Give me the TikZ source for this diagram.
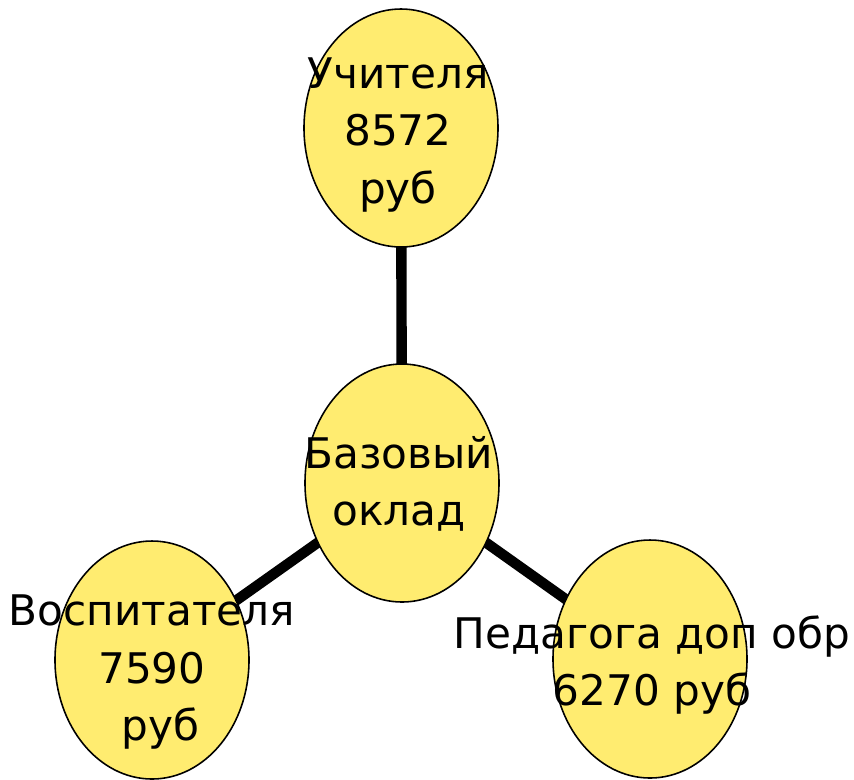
\documentclass[tikz,border=0pt]{standalone}
\usepackage{fontspec}
\setmainfont{DejaVu Sans}
\definecolor{oklad}{RGB}{255,236,112}
\tikzset{
  bubble/.style={ellipse, draw=black, line width=0.9pt, fill=oklad,
    minimum width=194*0.02cm, minimum height=238*0.02cm, inner sep=0pt},
  word/.style={align=center, inner sep=0pt,
    font=\fontsize{24}{32.5}\selectfont},
  spoke/.style={line width=5.9pt}
}
\usetikzlibrary{shapes.geometric}
\begin{document}
\begin{tikzpicture}[x=0.02cm,y=-0.02cm]
    \useasboundingbox (0,0) rectangle (854,779);
    \coordinate (ct) at (402,483);
    \coordinate (tt) at (401,128);
    \coordinate (lt) at (152,660);
    \coordinate (rt) at (650,659);
    % spokes first, bubbles on top
    \draw[spoke] (ct) -- (tt);
    \draw[spoke] (ct) -- (lt);
    \draw[spoke] (ct) -- (rt);
    \node[bubble] (base) at (ct) {};
    \node[bubble] (teacher) at (tt) {};
    \node[bubble] (tutor) at (lt) {};
    \node[bubble] (extra) at (rt) {};
    \node[word] (baseT) at (399,484) {Базовый\\оклад};
    \node[word] (teacherT) at (398,135) {Учителя\\8572\\руб};
    \node[word] (tutorT) at (152,672) {Воспитателя\\7590\\\hspace*{0.4em}руб};
    \node[word] (extraT) at (652,665) {Педагога доп обр\\6270 руб};
\end{tikzpicture}
\end{document}
